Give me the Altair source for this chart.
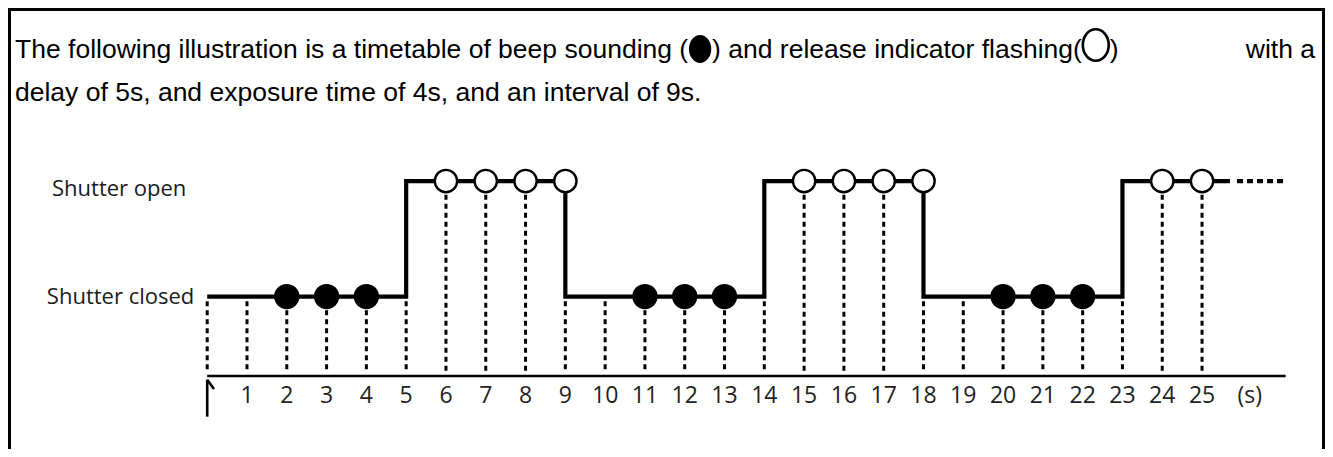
import altair as alt
import pandas as pd

# ---------------- data ----------------
tick_values = list(range(1, 26))
tick_labels = [str(v) for v in tick_values]
grid_seconds = list(range(0, 26))
step_x = [0, 5, 5, 9, 9, 14, 14, 18, 18, 23, 23, 25.7]
step_level = [0, 0, 1, 1, 0, 0, 1, 1, 0, 0, 1, 1]
beep_seconds = [2, 3, 4, 11, 12, 13, 20, 21, 22]
flash_seconds = [6, 7, 8, 9, 15, 16, 17, 18, 24, 25]
open_intervals = [(5, 9), (14, 18), (23, 99)]
continuation_x = [25.88, 27.1]
level_names = ["Shutter closed", "Shutter open"]
level_values = [0, 1]
unit_label = "(s)"
title_parts = [
    "The following illustration is a timetable of beep sounding (",
    ") and release indicator flashing(",
    ")",
    "with a",
]
title_line2 = "delay of 5s, and exposure time of 4s, and an interval of 9s."

# ---------------- layout ----------------
W, H = 1317, 441
AXIS_Y = -0.688
GRID_BOTTOM = -0.65
XS = alt.Scale(domain=[-5.006, 28.09], nice=False, zero=False)
YS = alt.Scale(domain=[-1.320, 2.498], nice=False, zero=False)
TITLE_FONT = "Liberation Sans"
F = 26.5


def X(f="x"):
    return alt.X(f"{f}:Q", scale=XS, axis=None)


def Y(f="y"):
    return alt.Y(f"{f}:Q", scale=YS, axis=None)


def level_at(t):
    return 1 if any(a < t < b for a, b in open_intervals) else 0


grid_df = pd.DataFrame({
    "x": grid_seconds,
    "y": [level_at(t) - 0.04 for t in grid_seconds],
    "y2": [GRID_BOTTOM] * len(grid_seconds),
})
grid = alt.Chart(grid_df).mark_rule(
    color="black", strokeWidth=3, strokeDash=[5, 4]
).encode(x=X(), y=Y(), y2="y2:Q")

axis_df = pd.DataFrame({"x": [0], "x2": [27.1], "y": [AXIS_Y]})
axis_line = alt.Chart(axis_df).mark_rule(color="black", strokeWidth=2.5).encode(
    x=X(), x2="x2:Q", y=Y()
)

arrow_df = pd.DataFrame({
    "x": [0, 0], "x2": [0, 0.17], "y": [-0.72, -0.72], "y2": [-1.04, -0.80]
})
arrow = alt.Chart(arrow_df).mark_rule(color="black", strokeWidth=2.6).encode(
    x=X(), x2="x2:Q", y=Y(), y2="y2:Q"
)

step_df = pd.DataFrame({"x": step_x, "y": step_level, "o": range(len(step_x))})
step = alt.Chart(step_df).mark_line(
    color="black", strokeWidth=4.2, strokeJoin="miter", strokeCap="butt"
).encode(x=X(), y=Y(), order="o:Q")

cont_df = pd.DataFrame({"x": [continuation_x[0]], "x2": [continuation_x[1]], "y": [1]})
cont = alt.Chart(cont_df).mark_rule(
    color="black", strokeWidth=4.2, strokeDash=[6, 4]
).encode(x=X(), x2="x2:Q", y=Y())

beep_df = pd.DataFrame({"x": beep_seconds, "y": [0] * len(beep_seconds)})
beeps = alt.Chart(beep_df).mark_point(
    shape="circle", filled=True, color="black", size=640, opacity=1
).encode(x=X(), y=Y())

flash_df = pd.DataFrame({"x": flash_seconds, "y": [1] * len(flash_seconds)})
flashes = alt.Chart(flash_df).mark_point(
    shape="circle", filled=True, fill="white", stroke="black",
    strokeWidth=2.4, size=500, opacity=1, fillOpacity=1, strokeOpacity=1
).encode(x=X(), y=Y())

lvl_df = pd.DataFrame({
    "x": [-4.03, -3.90],
    "y": [level_values[0] + 0.0, level_values[1] - 0.07],
    "t": level_names,
})
levels = alt.Chart(lvl_df).mark_text(
    align="left", baseline="middle", font="Open Sans", fontSize=22, color="#1a1a1a"
).encode(x=X(), y=Y(), text="t:N")

tick_df = pd.DataFrame({"x": tick_values, "t": tick_labels, "y": [-0.86] * 25})
ticks = alt.Chart(tick_df).mark_text(
    align="center", baseline="middle", font="Open Sans", fontSize=23, color="#222222"
).encode(x=X(), y=Y(), text="t:N")

unit_df = pd.DataFrame({"x": [26.2], "y": [-0.86], "t": [unit_label]})
unit = alt.Chart(unit_df).mark_text(
    align="center", baseline="middle", font="Open Sans", fontSize=23, color="#222222"
).encode(x=X(), y=Y(), text="t:N")

# ---- title text (pixel placement) ----
seg1_w = 25.4 * F
c1 = 7 + seg1_w + 12
seg2_x = c1 + 12
seg2_w = 13.95 * F
c2 = seg2_x + seg2_w + 14
par_x = c2 + 14

title_df = pd.DataFrame({
    "t": [title_parts[0], title_parts[1], title_parts[2], title_line2],
    "px": [7, seg2_x, par_x, 7],
    "py": [42, 42, 42, 85],
})
title_txt = alt.Chart(title_df).mark_text(
    align="left", baseline="middle", font=TITLE_FONT, fontSize=F, color="black"
).encode(
    x=alt.X("px:Q", scale=None, axis=None),
    y=alt.Y("py:Q", scale=None, axis=None),
    text="t:N",
)
title_right = alt.Chart(pd.DataFrame({"t": [title_parts[3]]})).mark_text(
    align="right", baseline="middle", font=TITLE_FONT, fontSize=F, color="black"
).encode(x=alt.value(1307), y=alt.value(42), text="t:N")

ellipse_fill = "M-0.8,0 A0.8,1 0 1,0 0.8,0 A0.8,1 0 1,0 -0.8,0 Z"
ellipse_open = "M-0.82,0 A0.82,1 0 1,0 0.82,0 A0.82,1 0 1,0 -0.82,0 Z"
sym1 = alt.Chart(pd.DataFrame({"px": [c1], "py": [41]})).mark_point(
    shape=ellipse_fill, filled=True, color="black", size=780, opacity=1
).encode(x=alt.X("px:Q", scale=None, axis=None), y=alt.Y("py:Q", scale=None, axis=None))
sym2 = alt.Chart(pd.DataFrame({"px": [c2], "py": [37]})).mark_point(
    shape=ellipse_open, filled=False, color="black", size=1000, strokeWidth=2.6, opacity=1
).encode(x=alt.X("px:Q", scale=None, axis=None), y=alt.Y("py:Q", scale=None, axis=None))

# ---- frame ----
frame_df = pd.DataFrame({
    "x": [1.5, W - 1.5, 0], "x2": [1.5, W - 1.5, W],
    "y": [0, 0, 1.5], "y2": [H, H, 1.5],
})
frame = alt.Chart(frame_df).mark_rule(color="black", strokeWidth=3).encode(
    x=alt.X("x:Q", scale=None, axis=None), x2="x2:Q",
    y=alt.Y("y:Q", scale=None, axis=None), y2="y2:Q",
)

chart = alt.layer(
    grid, axis_line, arrow, step, cont, beeps, flashes, levels, ticks, unit,
    title_txt, title_right, sym1, sym2, frame,
).properties(
    width=W, height=H, padding=0, autosize=alt.AutoSizeParams(type="none")
).configure_view(stroke=None).configure(background="white")

chart.save("out.html", embed_options={"renderer": "svg", "actions": False})
